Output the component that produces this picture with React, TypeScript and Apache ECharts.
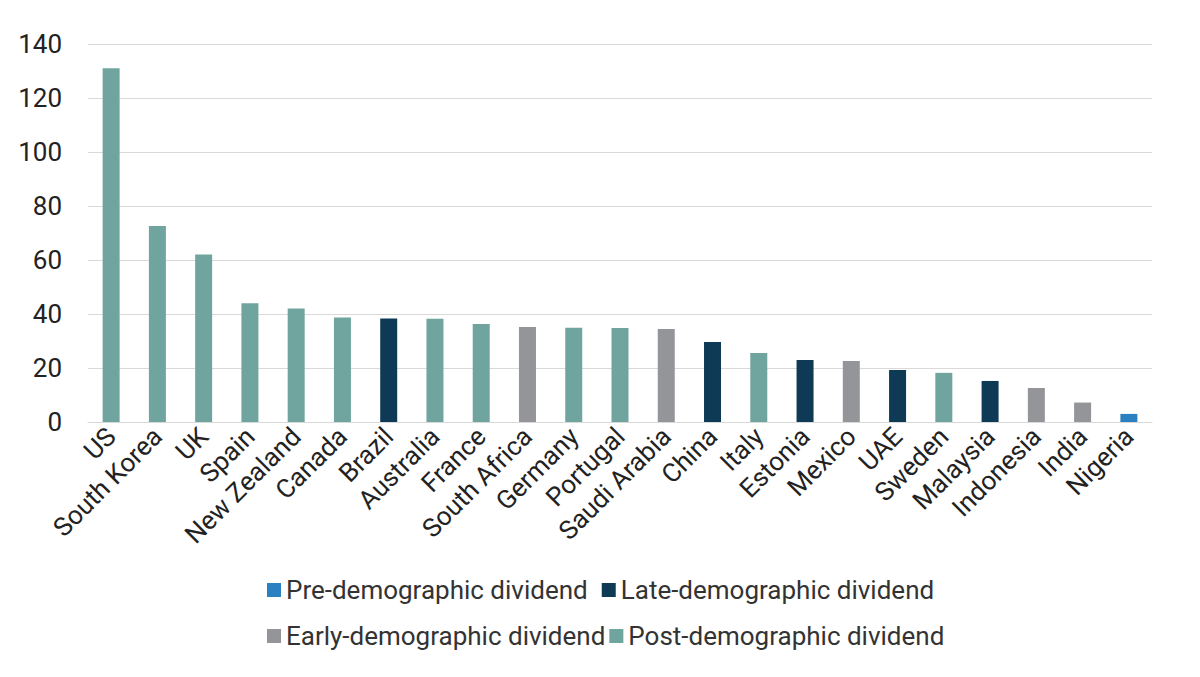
import React, { useEffect, useRef } from "react";
import * as echarts from "echarts";

const categories = ["US","South Korea","UK","Spain","New Zealand","Canada","Brazil","Australia","France","South Africa","Germany","Portugal","Saudi Arabia","China","Italy","Estonia","Mexico","UAE","Sweden","Malaysia","Indonesia","India","Nigeria"];
const values = [131,72.6,62,44,42,38.7,38.3,38.2,36.3,35.2,34.9,34.8,34.4,29.6,25.6,23,22.6,19.3,18.2,15.2,12.6,7.2,3];
const groups = ["post","post","post","post","post","post","late","post","post","early","post","post","early","late","post","late","early","late","post","late","early","early","pre"];
const seriesDefs = [
  { key: "pre", name: "Pre-demographic dividend", color: "#2a80c0" },
  { key: "late", name: "Late-demographic dividend", color: "#0e3a56" },
  { key: "early", name: "Early-demographic dividend", color: "#939598" },
  { key: "post", name: "Post-demographic dividend", color: "#70a59f" },
];

export default function App() {
  const ref = useRef<HTMLDivElement>(null);
  useEffect(() => {
    const chart = echarts.init(ref.current!, null, { renderer: "svg" });
    const font = "Roboto";
    chart.setOption({
      animation: false,
      textStyle: { fontFamily: font },
      grid: { left: 80, right: 40, top: 36, bottom: 247 },
      legend: [
        { data: [seriesDefs[0].name, seriesDefs[1].name], left: 254, top: 564, itemWidth: 14, itemHeight: 14, itemGap: 14, icon: "rect", textStyle: { fontSize: 26, color: "#333", fontFamily: font } },
        { data: [seriesDefs[2].name, seriesDefs[3].name], left: 254, top: 610, itemWidth: 14, itemHeight: 14, itemGap: 4, icon: "rect", textStyle: { fontSize: 26, color: "#333", fontFamily: font } },
      ],
      xAxis: {
        type: "category", data: categories,
        axisTick: { show: false },
        axisLine: { lineStyle: { color: "#d9d9d9" } },
        axisLabel: { rotate: 45, fontSize: 26, color: "#222", interval: 0, margin: 10 },
      },
      yAxis: {
        type: "value", min: 0, max: 140, interval: 20,
        axisLabel: { fontSize: 26, color: "#222", margin: 26 },
        splitLine: { lineStyle: { color: "#d9d9d9" } },
      },
      series: seriesDefs.map((s) => ({
        name: s.name, type: "bar", stack: "a", barWidth: 17,
        itemStyle: { color: s.color },
        data: values.map((v, i) => (groups[i] === s.key ? v : null)),
      })),
    });
    return () => chart.dispose();
  }, []);
  return <div ref={ref} style={{ width: 1184, height: 661 }} />;
}
